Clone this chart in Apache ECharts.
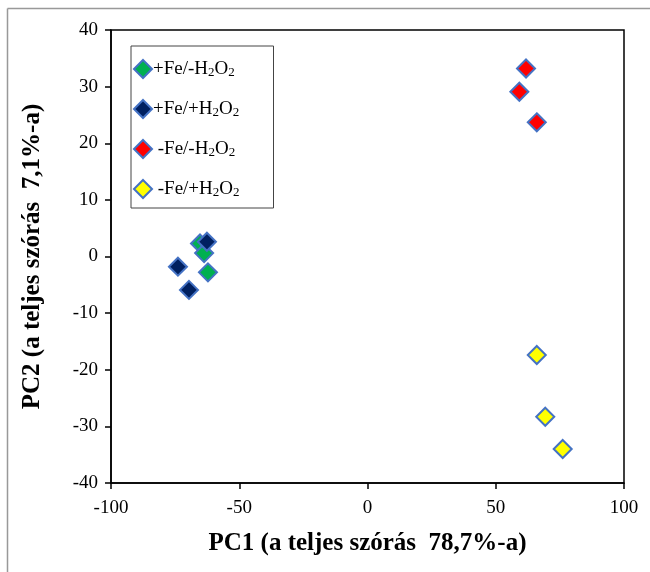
<!DOCTYPE html>
<html>
<head>
<meta charset="utf-8">
<script src="https://cdn.jsdelivr.net/npm/echarts@6/dist/echarts.min.js"></script>
<style>
  html, body { margin: 0; padding: 0; background: #fff; }
  #chart { width: 650px; height: 572px; }
</style>
</head>
<body>
<div id="chart"></div>
<script>
// PCA score plot: PC1 vs PC2 for the four Fe / H2O2 treatment groups
const groupNames = ['+Fe/-H2O2', '+Fe/+H2O2', '-Fe/-H2O2', '-Fe/+H2O2'];
const groupColors = ['#00B050', '#002060', '#FF0000', '#FFFF00'];

const plusFeMinusH2O2 = [[-65.3, 2.3], [-63.7, 0.6], [-62.2, -2.8]];
const plusFePlusH2O2 = [[-62.6, 2.6], [-73.9, -1.8], [-69.6, -5.9]];
const minusFeMinusH2O2 = [[61.8, 33.2], [59.2, 29.1], [66.0, 23.7]];
const minusFePlusH2O2 = [[66.0, -17.4], [69.3, -28.3], [76.1, -34.0]];

const xTicks = { min: -100, max: 100, interval: 50 };
const yTicks = { min: -40, max: 40, interval: 10 };

const serif = '"Liberation Serif", "Times New Roman", serif';

// Legend labels with subscript digits
const legendLabels = {
  '+Fe/-H2O2': '{n|+Fe/-H}{s|2}{n|O}{s|2}',
  '+Fe/+H2O2': '{n|+Fe/+H}{s|2}{n|O}{s|2}',
  '-Fe/-H2O2': '{n| -Fe/-H}{s|2}{n|O}{s|2}',
  '-Fe/+H2O2': '{n| -Fe/+H}{s|2}{n|O}{s|2}'
};

const seriesData = [plusFeMinusH2O2, plusFePlusH2O2, minusFeMinusH2O2, minusFePlusH2O2];

const chart = echarts.init(document.getElementById('chart'));
chart.setOption({
  backgroundColor: '#fff',
  animation: false,
  grid: { left: 111, top: 30, width: 513, height: 453, show: true, borderColor: '#000', borderWidth: 1.5 },
  legend: {
    orient: 'vertical',
    left: 131,
    top: 46,
    data: groupNames,
    itemWidth: 18,
    itemHeight: 18,
    itemGap: 18,
    padding: [11, 34, 9, 2],
    borderColor: '#444',
    borderWidth: 1,
    formatter: name => legendLabels[name],
    textStyle: {
      padding: [0, 0, 0, -4],
      rich: {
        n: { fontFamily: serif, fontSize: 19, color: '#000', lineHeight: 20 },
        s: { fontFamily: serif, fontSize: 13, color: '#000', lineHeight: 20, verticalAlign: 'bottom', padding: [9, 0, 0, 0] }
      }
    }
  },
  xAxis: {
    type: 'value',
    min: xTicks.min, max: xTicks.max, interval: xTicks.interval,
    name: 'PC1 (a teljes szórás  78,7%-a)',
    nameLocation: 'middle',
    nameGap: 48,
    nameTextStyle: { fontFamily: serif, fontSize: 25, fontWeight: 'bold', color: '#000' },
    axisLine: { show: true, onZero: false, lineStyle: { color: '#000', width: 1.5 } },
    axisTick: { show: true, inside: false, length: 6, lineStyle: { color: '#000', width: 1.5 } },
    axisLabel: { fontFamily: serif, fontSize: 19, color: '#000', margin: 16 },
    splitLine: { show: false }
  },
  yAxis: {
    type: 'value',
    min: yTicks.min, max: yTicks.max, interval: yTicks.interval,
    name: 'PC2 (a teljes szórás  7,1%-a)',
    nameLocation: 'middle',
    nameGap: 66,
    nameRotate: 90,
    nameTextStyle: { fontFamily: serif, fontSize: 25, fontWeight: 'bold', color: '#000' },
    axisLine: { show: true, onZero: false, lineStyle: { color: '#000', width: 1.5 } },
    axisTick: { show: true, inside: false, length: 6, lineStyle: { color: '#000', width: 1.5 } },
    axisLabel: { fontFamily: serif, fontSize: 19, color: '#000', margin: 13 },
    splitLine: { show: false }
  },
  series: groupNames.map((name, i) => ({
    name: name,
    type: 'scatter',
    symbol: 'diamond',
    symbolSize: 18,
    data: seriesData[i],
    itemStyle: { color: groupColors[i], borderColor: '#4472C4', borderWidth: 2, opacity: 1 }
  })),
  graphic: [
    { type: 'line', silent: true, shape: { x1: 7.5, y1: 8.5, x2: 650, y2: 8.5 }, style: { stroke: '#999', lineWidth: 1.5 } },
    { type: 'line', silent: true, shape: { x1: 7.5, y1: 8.5, x2: 7.5, y2: 572 }, style: { stroke: '#999', lineWidth: 1.5 } }
  ]
});
</script>
</body>
</html>
